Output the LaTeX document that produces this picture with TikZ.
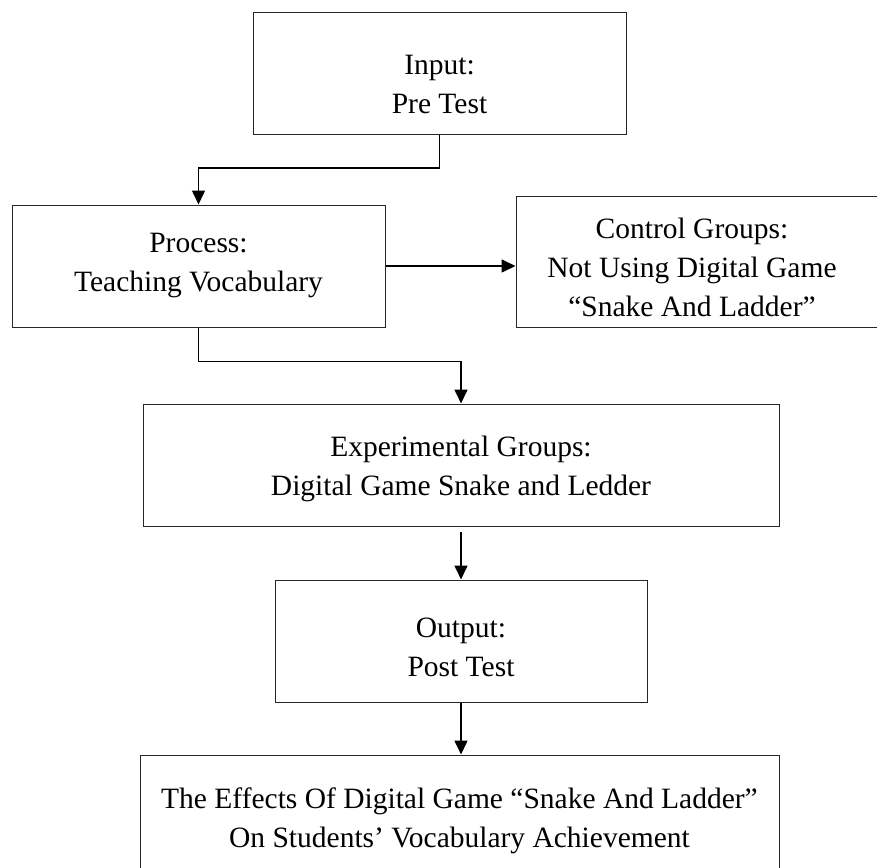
\documentclass[tikz,border=0pt]{standalone}
\usepackage{fontspec}
\setmainfont{Liberation Serif}
\usetikzlibrary{arrows.meta}
\begin{document}
\begin{tikzpicture}[x=1pt,y=-1pt,
  box/.style={draw=black!85, line width=1pt, rectangle, inner sep=0pt},
  lbl/.style={align=center, font=\fontsize{29.5}{39}\selectfont, inner sep=0pt},
  conn/.style={line width=1.6pt, -{Triangle[length=14pt,width=13pt]}}]
\useasboundingbox (0,0) rectangle (877,867);
% boxes
\node[box, minimum width=373pt, minimum height=121pt] (b1) at (439.5,73.5) {};
\node[box, minimum width=373pt, minimum height=122pt] (b2) at (198.5,266) {};
\node[box, minimum width=374pt, minimum height=131pt] (b3) at (703,261.5) {};
\node[box, minimum width=636pt, minimum height=122pt] (b4) at (461,465) {};
\node[box, minimum width=372pt, minimum height=122pt] (b5) at (461,641) {};
\node[box, minimum width=639pt, minimum height=135pt] (b6) at (459.5,822.5) {};
% texts
\node[lbl] (t1) at (439.5,84) {Input:\\Pre Test};
\node[lbl] (t2) at (198.5,266) {Process:\\Teaching Vocabulary};
\node[lbl] (t3) at (692,267) {Control Groups:\\Not Using Digital Game\\``Snake And Ladder''};
\node[lbl] (t4) at (461,469) {Experimental Groups:\\Digital Game Snake and Ledder};
\node[lbl] (t5) at (461,647) {Output:\\Post Test};
\node[lbl] (t6) at (459.5,821) {The Effects Of Digital Game ``Snake And Ladder''\\On Students' Vocabulary Achievement};
% connectors
\draw[conn] (b1.south) -- ++(0,33.5) -| (b2.north);
\draw[conn] (b2.east) -- (b2.east -| b3.west);
\draw[conn] (b2.south) -- ++(0,34) -| (b4.north);
\draw[conn, shorten <=5pt] (b4.south) -- (b5.north);
\draw[conn] (b5.south) -- (b5.south |- b6.north);
\end{tikzpicture}
\end{document}
